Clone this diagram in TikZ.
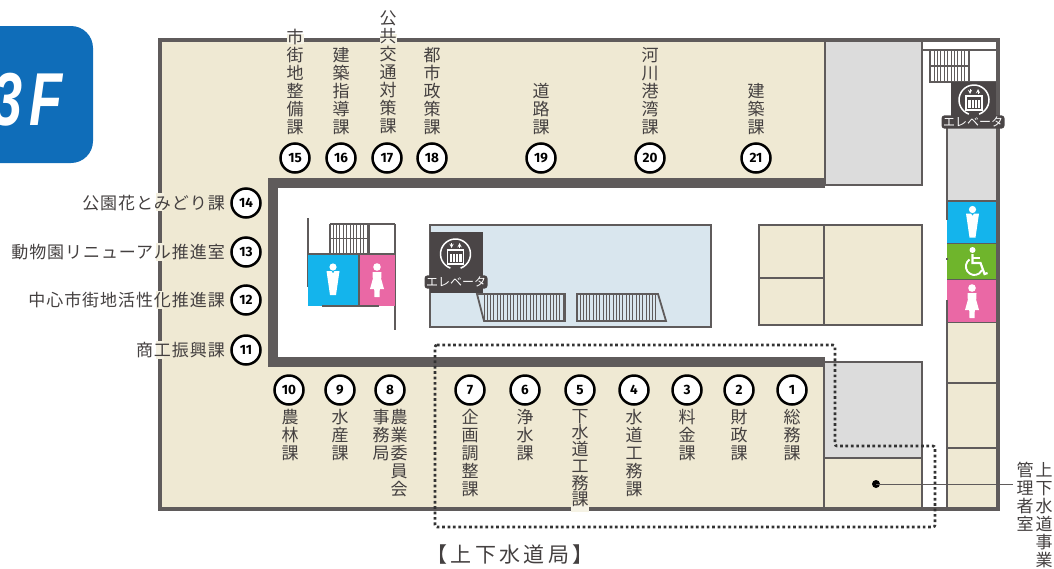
\documentclass[tikz,border=0pt]{standalone}
\usepackage{fontspec}
\newfontfamily\cjk{Noto Sans CJK JP}
\newfontfamily\cjkw[LetterSpace=5.5]{Noto Sans CJK JP}
\newfontfamily\cjkb[LetterSpace=16]{Noto Sans CJK JP}
\newfontfamily\numf{Fira Sans}
\newfontfamily\logof{Liberation Sans}
\definecolor{wall}{HTML}{5F5B5B}
\definecolor{dark}{HTML}{4A4546}
\definecolor{beige}{HTML}{EFE9D3}
\definecolor{roomgrey}{HTML}{DCDCDC}
\definecolor{pool}{HTML}{D9E6EE}
\definecolor{manblue}{HTML}{14B4EC}
\definecolor{ladypink}{HTML}{EA68A5}
\definecolor{accgreen}{HTML}{6FB52C}
\definecolor{logoblue}{HTML}{0F6DB9}
\definecolor{ink}{HTML}{444040}
\tikzset{
  room/.style={draw=wall,line width=1.5},
  outerwall/.style={draw=wall,line width=4},
  thickwall/.style={draw=wall,line width=10},
  thinwall/.style={draw=wall,line width=1.8},
  hatch/.style={draw=wall,line width=0.9},
  num/.style={circle,draw=black,line width=2.5,fill=white,minimum size=29,inner sep=0,font=\numf\bfseries\fontsize{13.5}{13.5}\selectfont},
  hlabel/.style={anchor=east,inner sep=0,text=ink,font=\cjkw\fontsize{17}{18}\selectfont},
  elevlabel/.style={fill=dark,text=white,rounded corners=3,inner sep=1.5,font=\cjk\fontsize{12}{12}\selectfont},
}
\newcommand{\vlab}[5]{\node[anchor=north,inner sep=0,align=center,text=ink,font=\cjk\fontsize{17}{#4}\selectfont] (#1) at (#2,#3-8) {#5};}
\newcommand{\elevicon}[3]{%
  \begin{scope}[shift={(#1,#2)}]
    \draw[white,line width=1.5] (110:#3) arc (110:430:#3);
    \draw[white,line width=1.2,fill=dark] (-8,-4) rectangle (8,10);
    \fill[white] (-6,0) rectangle (6,8);
    \foreach \ex in {-3,0,3} {\draw[dark,line width=0.8] (\ex,0) -- (\ex,8);}
    \draw[white,line width=0.9,-stealth] (-4,-11) -- (-4,-6);
    \draw[white,line width=0.9,-stealth] (4,-6) -- (4,-11);
  \end{scope}}
\newcommand{\manicon}[2]{%
  \begin{scope}[shift={(#1,#2)}]
    \fill[white] (0,0) circle (3.6);
    \fill[white] (-6.5,4) -- (-1.5,4) -- (0,6.5) -- (1.5,4) -- (6.5,4) -- (3,28) -- (-3,28) -- cycle;
  \end{scope}}
\newcommand{\ladyicon}[2]{%
  \begin{scope}[shift={(#1,#2)}]
    \fill[white] (0,0) circle (3.8);
    \fill[white] (-4.5,5) -- (4.5,5) -- (4.2,12) -- (7,22) -- (2.8,22) -- (2.5,30) -- (-2.5,30) -- (-2.8,22) -- (-7,22) -- (-4.2,12) -- cycle;
  \end{scope}}
\begin{document}
\begin{tikzpicture}[x=1pt,y=-1pt]
\useasboundingbox (0,0) rectangle (1054,568);
% logo
\fill[logoblue] (0,26) -- (71,26) arc (-90:0:22) -- (93,141) arc (0:90:22) -- (0,163) -- cycle;
\begin{scope}
\clip (0,0) rectangle (1054,568);
\node[anchor=base east,inner sep=0,text=white,xscale=0.72,transform shape,font=\logof\bfseries\itshape\fontsize{75}{75}\selectfont] (logo) at (63,125) {3\kern10pt F};
\end{scope}
% floor fills
\fill[beige] (160,40) rectangle (825,509);
\fill[white] (273,183) rectangle (825,362);
% grey rooms and beige room at right
\draw[room,fill=roomgrey] (825,40) rectangle (922,185);
\draw[room,fill=roomgrey] (824,362) rectangle (922,458);
\draw[room,fill=beige] (824,458) rectangle (922,509);
% central beige rooms
\draw[room,fill=beige] (759,225) rectangle (824,325);
\draw[room,fill=beige] (824,225) rectangle (922,325);
\draw[room] (759,278) -- (824,278);
% right column
\fill[roomgrey] (947,125) rectangle (996,201);
\fill[manblue] (947,201) rectangle (996,243);
\fill[accgreen] (947,244) rectangle (996,279);
\fill[ladypink] (947,280) rectangle (996,322);
\fill[beige] (947,322) rectangle (996,509);
\draw[room] (947,125) -- (947,220) (947,258) -- (947,260) (947,300) -- (947,509);
\draw[room] (947,201) -- (996,201) (947,243.5) -- (996,243.5) (947,279.5) -- (996,279.5) (947,322.5) -- (996,322.5);
\draw[room] (947,383) -- (996,383) (947,448) -- (996,448);
% top right stair
\draw[thinwall] (922,50) -- (996,50);
\draw[thinwall] (930,50) rectangle (969,82);
\draw[thinwall] (930,66) -- (969,66) (930,82) -- (996,82);
\foreach \hx in {934,937.4,...,968} {\draw[hatch] (\hx,50) -- (\hx,82);}
% outer wall
\draw[outerwall] (160,40) rectangle (998,509);
% thick wall
\draw[thickwall,line join=miter] (825,183) -- (273,183) -- (273,362) -- (825,362);
% wall gaps behind text
\fill[beige!60!white] (287,34) rectangle (304,44);
\fill[beige!60!white] (380,34) rectangle (397,44);
\foreach \gy in {202,252,300,350} {\fill[beige!70!white] (156,\gy-9) rectangle (164,\gy+9);}
\fill[beige!60!white] (571,505) rectangle (589,512);
% lift lobby stair and toilets
\draw[thinwall] (308,218) -- (308,287);
\draw[thinwall] (330,224) -- (395,224);
\draw[thinwall] (395,224) -- (395,330);
\foreach \hx in {333,336.4,...,369} {\draw[hatch] (\hx,224) -- (\hx,254);}
\draw[thinwall] (330,224) -- (330,254) (369,224) -- (369,254) (330,238.5) -- (369,238.5);
\fill[manblue] (308,254) rectangle (358,306);
\fill[ladypink] (360,254) rectangle (395,306);
\draw[thinwall] (308,254) -- (395,254) (359,254) -- (359,306) (322,306) -- (379,306);
\manicon{333}{267}
\ladyicon{377}{267}
% void
\draw[room,fill=pool,line width=1.8] (430,225) rectangle (711,327);
\fill[dark] (430,232) rectangle (483,293);
\fill[pool] (431,226) rectangle (482,230);
\draw[thinwall,fill=pool] (477,294) -- (565,294) -- (565,321) -- (484,321) -- cycle;
\foreach \hx in {484,487.3,...,565} {\draw[hatch] (\hx,294) -- (\hx,321);}
\draw[thinwall,fill=pool] (577,294) -- (658,294) -- (666,321) -- (577,321) -- cycle;
\foreach \hx in {580,583.3,...,658} {\draw[hatch] (\hx,294) -- (\hx,321);}
\elevicon{455.5}{254}{15}
\node[elevlabel] (elevA) at (456,282) {エレベータ};
% right elevator
\fill[dark] (951,82) rectangle (996,125);
\elevicon{974}{100}{15}
\node[elevlabel] (elevB) at (973,122) {エレベータ};
% right column icons
\manicon{972.5}{209.5}
\ladyicon{972}{288}
\begin{scope}[shift={(972.5,250)}]
  \fill[white] (0,0) circle (3);
  \draw[white,line width=2.2] (0,4) -- (0,13) -- (8,13) -- (12,24) -- (15,23);
  \draw[white,line width=1.8] (0,8) -- (7,8);
  \draw[white,line width=1.9] (-3,9.5) arc (-125:-335:8.5);
\end{scope}
% dashed zone
\draw[draw=black!80,line width=2.6,dash pattern=on 2.7pt off 2.7pt,rounded corners=2] (435,345) -- (835,345) -- (835,446) -- (935,446) -- (935,527) -- (435,527) -- cycle;
% leader
\node[circle,fill=black,minimum size=8,inner sep=0] (dot) at (876,484) {};
\coordinate (leadend) at (1013,484);
\draw[draw=wall,line width=0.9] (dot.center) -- (leadend);
% numbers
\node[num] (n15) at (295,158) {15};
\node[num] (n16) at (341,158) {16};
\node[num] (n17) at (387,158) {17};
\node[num] (n18) at (432,158) {18};
\node[num] (n19) at (541,158) {19};
\node[num] (n20) at (650,158) {20};
\node[num] (n21) at (756,158) {21};
\node[num] (n14) at (246,203) {14};
\node[num] (n13) at (246,252) {13};
\node[num] (n12) at (246,300) {12};
\node[num] (n11) at (246,350) {11};
\node[num] (n10) at (289,390) {10};
\node[num] (n9) at (340,390) {9};
\node[num] (n8) at (390,390) {8};
\node[num] (n7) at (470,390) {7};
\node[num] (n6) at (525,390) {6};
\node[num] (n5) at (580,390) {5};
\node[num] (n4) at (634,390) {4};
\node[num] (n3) at (687,390) {3};
\node[num] (n2) at (739,390) {2};
\node[num] (n1) at (792,390) {1};
% top labels
\vlab{t15}{295}{37}{18}{市\\街\\地\\整\\備\\課}
\vlab{t16}{341}{55}{18}{建\\築\\指\\導\\課}
\vlab{t17}{388}{19}{18}{公\\共\\交\\通\\対\\策\\課}
\vlab{t18}{432}{55}{18}{都\\市\\政\\策\\課}
\vlab{t19}{541}{91}{18}{道\\路\\課}
\vlab{t20}{650}{55}{18}{河\\川\\港\\湾\\課}
\vlab{t21}{756}{91}{18}{建\\築\\課}
% bottom labels
\vlab{b10}{290}{417}{18}{農\\林\\課}
\vlab{b9}{340}{417}{18}{水\\産\\課}
\vlab{b8a}{381}{417}{18}{事\\務\\局}
\vlab{b8b}{399}{417}{18}{農\\業\\委\\員\\会}
\vlab{b7}{470}{417}{18}{企\\画\\調\\整\\課}
\vlab{b6}{525}{417}{18}{浄\\水\\課}
\vlab{b5}{580}{417}{16.7}{下\\水\\道\\工\\務\\課}
\vlab{b4}{634}{417}{18}{水\\道\\工\\務\\課}
\vlab{b3}{687}{417}{18}{料\\金\\課}
\vlab{b2}{739}{417}{18}{財\\政\\課}
\vlab{b1}{792}{417}{18}{総\\務\\課}
% left labels
\node[hlabel] (l14) at (225,203) {公園花とみどり課};
\node[hlabel] (l13) at (225,252) {動物園リニューアル推進室};
\node[hlabel] (l12) at (225,300) {中心市街地活性化推進課};
\node[hlabel] (l11) at (225,350) {商工振興課};
% right labels
\vlab{r1}{1044}{470}{18}{上\\下\\水\\道\\事\\業}
\vlab{r2}{1025}{470}{18}{管\\理\\者\\室}
% bureau
\node[inner sep=0,text=ink,font=\cjkb\fontsize{21}{22}\selectfont] (bureau) at (510,555) {【上下水道局】};
\end{tikzpicture}
\end{document}
